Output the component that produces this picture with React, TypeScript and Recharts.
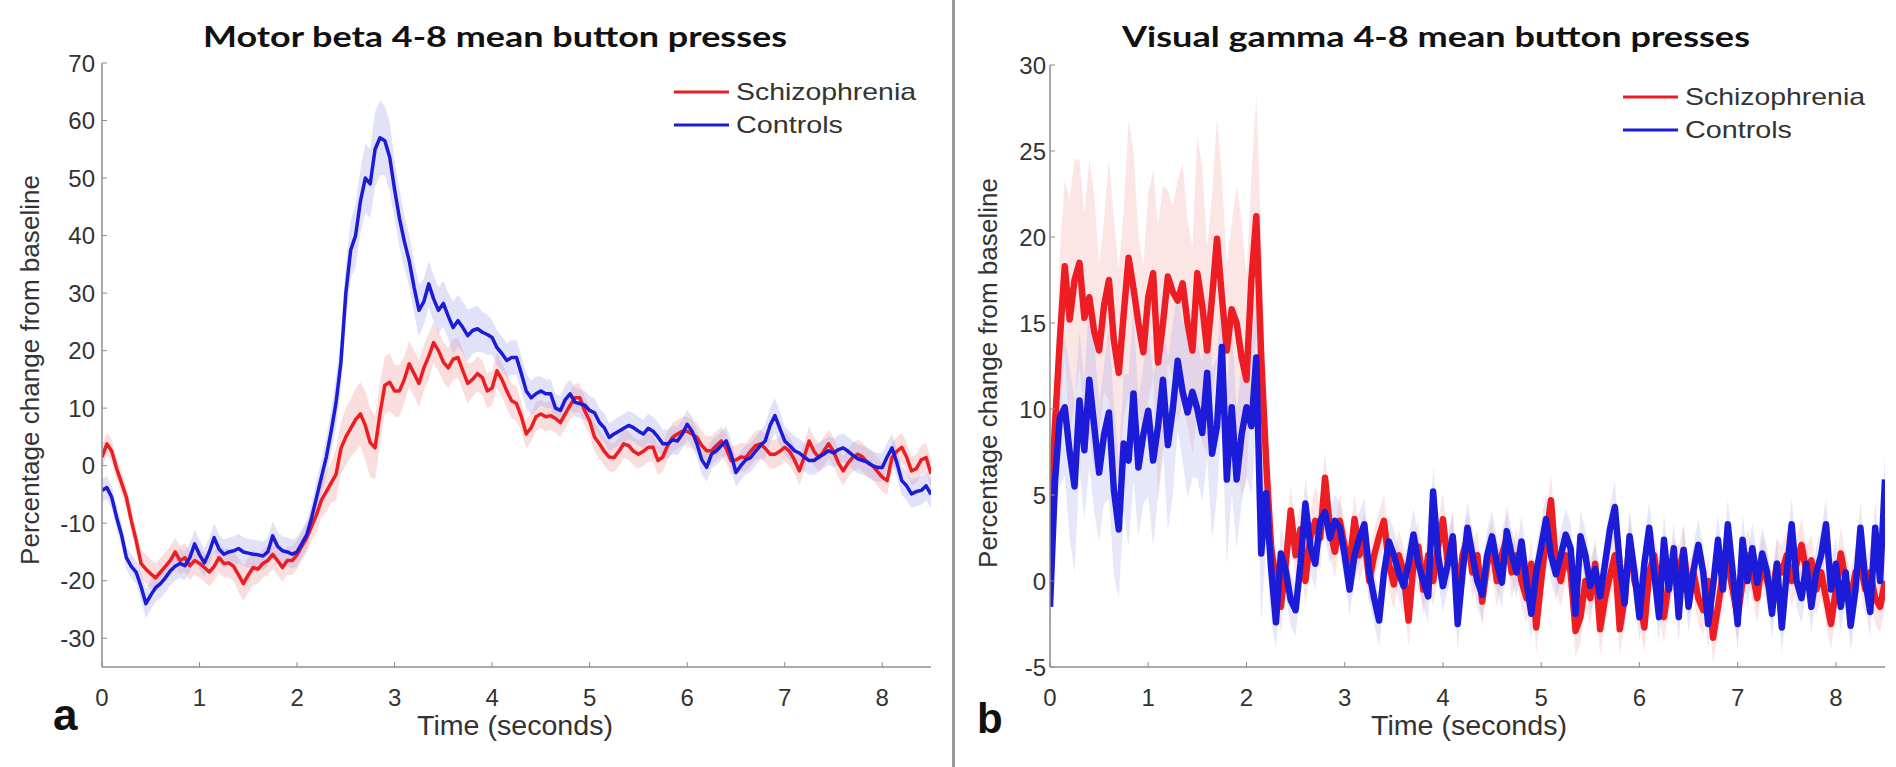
import React from 'react';
import { ComposedChart, Line, Area, XAxis, YAxis } from 'recharts';

// sampling of the traces (seconds)
const STEP = 0.05;

const TIME_TICKS = [0, 1, 2, 3, 4, 5, 6, 7, 8];
const MOTOR_TICKS = [-30, -20, -10, 0, 10, 20, 30, 40, 50, 60, 70];
const VISUAL_TICKS = [-5, 0, 5, 10, 15, 20, 25, 30];

// panel a: motor beta, % change from baseline, one value every 0.05 s from 0 to 8.5 s
const motorSchizo = [
  1.5, 3.8, 2.5, -0.5, -3, -5.5, -9.5, -13, -17, -18,
  -18.8, -19.5, -18.5, -17.5, -16.5, -15, -16.5, -16, -17.4, -16.5,
  -17, -17.7, -18.5, -17.5, -16, -17, -16.9, -17.5, -19, -20.5,
  -19, -17.7, -18, -17, -16.5, -15.4, -16.5, -17.7, -16.5, -16.5,
  -15.5, -14, -12.5, -10.5, -8.5, -6, -4.5, -3, -1.5, 3,
  5, 6.5, 8, 9, 7, 4, 3.1, 9, 14, 14.5,
  13, 13, 15, 17.7, 16, 14.3, 17, 19, 21.4, 20,
  18, 17, 18.5, 18.8, 16.5, 14.3, 15, 16, 15.3, 13,
  13.5, 16.5, 15, 13, 11.3, 10.8, 8.5, 5.5, 6.6, 8.5,
  9, 8.5, 8.7, 8.2, 7.5, 9, 10.5, 11.8, 11.8, 9.5,
  7.8, 5, 3.8, 2.5, 1.5, 1.4, 2.5, 3.8, 3.5, 2.5,
  2, 2.5, 3.2, 3.2, 0.9, 1.5, 3.5, 4.9, 5.5, 6,
  6, 5.5, 4.9, 3.5, 2.6, 2.6, 3.5, 4.3, 3, 0.9,
  1, 1.5, 1.4, 2.5, 3.5, 3.8, 3, 2, 2, 2.5,
  3.2, 2.5, 1, -0.9, 1.5, 4.3, 2.5, 1.4, 2.5, 3.8,
  2.5, 0.5, -0.9, 0.5, 1.5, 2, 1.5, 0.5, 0, -1,
  -2, -2.6, 1.4, 2.5, 3.2, 1.5, -0.9, -0.5, 1, 1.4,
  -1.4,
];

const motorControls = [
  -4.3, -3.8, -5.5, -9, -12, -16, -17.5, -18.5, -21, -24,
  -22.5, -21.2, -20.5, -19.5, -18.3, -17.5, -17, -17.4, -16, -13.6,
  -15.5, -16.9, -15, -12.5, -14.5, -15.4, -15, -14.8, -14.4, -15,
  -15.2, -15.4, -15.5, -15.7, -15, -12.2, -14, -14.8, -15, -15.4,
  -15, -13.5, -12, -9, -5.5, -2, 1.5, 6, 11, 18,
  30, 37.5, 40, 46, 50, 49, 55, 57, 56.5, 53.6,
  48, 43, 39, 35.6, 31, 27, 28.5, 31.6, 29, 27,
  28.2, 26, 24, 25.2, 24, 22.6, 23.5, 23.8, 23.2, 22.8,
  22.3, 20.5, 19.5, 18.3, 18.8, 18.8, 16, 13, 11.8, 12.5,
  13, 12.5, 12.5, 10, 9.6, 11.5, 12.5, 11, 10.8, 10.5,
  9.6, 9.2, 7.5, 6.6, 4.9, 5.5, 6, 6.5, 7, 6.6,
  6, 5.5, 6.5, 6, 5, 3.8, 3.8, 4.5, 4.3, 5.5,
  7.2, 6, 3.8, 1, -0.3, 2, 2.6, 3.5, 4.3, 2,
  -1.2, 0, 1, 1.4, 2.5, 3.5, 4.3, 7, 8.7, 6.5,
  4.3, 3.5, 2.6, 2.2, 1.5, 0.9, 0.9, 1.5, 2, 2.6,
  2.2, 2.8, 3.1, 2.5, 1.8, 1.2, 0.9, 0.6, 0, -0.3,
  -0.3, 1.5, 3.1, 0.5, -2.6, -3.5, -4.9, -4.5, -4.3, -3.5,
  -5,
];

// half-width of the shaded error bands, one value every 0.1 s
const motorSchizoSem = [
  2, 2, 2, 2, 2.5, 2.5, 2.5, 2.5, 2.5, 2.5,
  2.5, 2.5, 2.5, 2.5, 3, 3, 2.5, 2.5, 2.5, 2.5,
  2.5, 2.5, 3, 3.5, 4.5, 5, 5.5, 6, 5.5, 5,
  4.5, 4, 4, 4, 3.5, 3.5, 3.5, 3.5, 3, 3,
  3, 3, 3, 2.5, 2.5, 2.5, 2.5, 2.5, 2.5, 2.5,
  2.5, 2.5, 2.5, 2.5, 2.5, 2.5, 2.5, 2.5, 2.5, 2.5,
  2.5, 2.5, 2.5, 2.5, 2.5, 2.5, 2.5, 2.5, 2.5, 2.5,
  2.5, 2.5, 2.5, 2.5, 2.5, 2.5, 2.5, 2.5, 2.5, 2.5,
  2.5, 2.5, 2.5, 2.5, 2.5, 2.5,
];

const motorControlsSem = [
  2, 2, 2, 2, 2.5, 2.5, 2.5, 2.5, 2.5, 2.5,
  2.5, 2.5, 2.5, 2.5, 2.5, 2.5, 2.5, 2.5, 2.5, 2.5,
  2.5, 2.5, 3, 3.5, 4.5, 5, 5.5, 6, 6.5, 6,
  5, 4.5, 4.5, 4, 4, 4, 4.5, 4.5, 4, 3.5,
  3, 3, 3, 3, 3, 2.5, 2.5, 2.5, 2.5, 2.5,
  2.5, 2.5, 2.5, 2.5, 2.5, 2.5, 2.5, 2.5, 2.5, 2.5,
  2.5, 2.5, 2.5, 2.5, 2.5, 2.5, 2.5, 2.5, 3, 3,
  2.5, 2.5, 2.5, 2.5, 2.5, 2.5, 2.5, 2.5, 2.5, 2.5,
  2.5, 2.5, 2.5, 2.5, 2.5, 2.5,
];

// panel b: visual gamma
const visualSchizo = [
  3, 9, 14, 18.3, 15.2, 17.5, 18.5, 15.3, 16.5, 14.5,
  13.4, 16, 17.5, 14, 12.1, 15.5, 18.8, 17, 15, 13.3,
  16.5, 17.9, 12.7, 15, 17.7, 16.8, 16.3, 17.3, 15, 13.4,
  17.9, 16, 13.4, 16.5, 19.9, 16.5, 13.4, 15.8, 15, 13,
  11.7, 17.5, 21.2, 13, 7, 2, 0, -1.5, 1, 4.1,
  1.5, 3, 0, 2.5, 3.5, 2.5, 6, 3, 1.7, 3.5,
  2, 1, 3.6, 1.5, 2.5, 0, 1.5, 2.6, 3.5, 1,
  -0.2, 1.5, 0.5, -2.3, 1, 2, -0.5, 1.5, 0, 2,
  3.6, 1, 2.5, -1, 1.5, 2.5, 0.5, 1.5, -1.2, 1,
  2, 0, 1.5, 2.5, 0.5, 1.5, 0, -1, 1, -2.7,
  0, 2.5, 4.7, 1, 0, 1.5, 0.5, -2.9, -2.1, 0,
  -1, 1, -2.8, -1, 0.3, 1.5, -2.8, -1, 2.4, 0,
  -1, -2.7, 0.5, 1.5, -0.5, -2.1, 0, 1, 0.5, 1.8,
  -0.5, 0.5, -1, -1.7, 0, -3.3, -1.5, 0.5, 1, -0.5,
  -2.1, 0, 1.5, 0.5, -1, 1.2, 0, -0.9, 1, 0.5,
  1.5, 0, 1, 2.1, 0.5, 1.2, -0.5, 0.5, -1, -2.5,
  -0.5, 1.6, 0, -1, 0.5, 1, -0.5, 0.5, -1, -1.5,
  0,
];

const visualControls = [
  -1.5, 5.7, 9.5, 10.1, 7.5, 5.5, 10.5, 7.6, 11.7, 9,
  6.3, 8.5, 9.8, 5.3, 3, 8, 7, 10.9, 6.6, 8.5,
  9.9, 7, 9, 11.7, 7.9, 10, 12.8, 11, 9.8, 11,
  10, 8.6, 12.1, 7.4, 9, 13.6, 5.9, 10.1, 5.9, 8.5,
  10.1, 9, 13, 1.6, 5.1, 0.8, -2.4, 1.6, 0.6, -1.1,
  -1.7, 1, 4.5, 2, 1, 3.5, 4, 2.5, 3.5, 3.1,
  1.5, -0.5, 1.5, 2.5, 3.3, 0.5, -1, -2.3, 0.5, 2.3,
  1.5, 0.5, -0.3, 1, 2.7, 1, 0, -0.9, 5.2, 1.5,
  -0.3, 1, 2.6, -2.5, 0.5, 3.1, 1.5, 0, -0.8, 1.5,
  2.6, 1, -0.1, 2.9, 1.5, 0.5, 2.3, 0, -1.9, 0.5,
  2, 3.6, 1.5, 0.4, 1.5, 2.7, 1.9, -1.9, 2.6, 1.5,
  -0.3, 0.7, -0.9, 1, 3, 4.3, 1, -1.3, 2.6, 0.5,
  -2.1, 1, 3.1, 0.5, -2.1, 2.4, -0.5, 1.9, -2.1, 1.8,
  -1.5, 0.6, 2.1, 0.5, -2.5, -0.3, 2.4, -0.5, 3.3, 0.5,
  -2.5, 2.4, 0, 1.9, -0.1, 1.6, 0.5, -1.9, 1, -2.7,
  0.5, 3.3, 0, -1, 1, -1.5, 0.5, 1.5, 3.3, -0.5,
  1, -1.5, 0.5, -2.6, -0.5, 3.1, 0, -1.8, 3.1, 0,
  5.9,
];

const visualSchizoSem = [
  2, 5, 7, 6, 8, 5, 7, 6, 8, 5,
  6, 8, 5, 7, 6, 8, 6, 7, 5, 8,
  6, 7, 3, 1.5, 1.5, 1.5, 1.5, 2, 1.5, 1.5,
  1.5, 1.5, 1.5, 1.5, 1.5, 1.5, 1.5, 1.5, 1.5, 1.5,
  1.5, 1.5, 1.5, 1.5, 1.5, 1.5, 1.5, 1.5, 1.5, 1.5,
  1.5, 1.5, 1.5, 1.5, 1.5, 1.5, 1.5, 1.5, 1.5, 1.5,
  1.5, 1.5, 1.5, 1.5, 1.5, 1.5, 1.5, 1.5, 1.5, 1.5,
  1.5, 1.5, 1.5, 1.5, 1.5, 1.5, 1.5, 1.5, 1.5, 1.5,
  1.5, 1.5, 1.5, 1.5, 1.5, 1.5,
];

const visualControlsSem = [
  2, 4, 5, 4, 5, 4, 5, 4, 5, 4,
  5, 4, 5, 4, 5, 4, 5, 4, 5, 4,
  4, 4, 3, 1.5, 1.5, 1.5, 1.5, 1.5, 1.5, 1.5,
  1.5, 1.5, 1.5, 1.5, 1.5, 1.5, 1.5, 1.5, 1.5, 1.5,
  1.5, 1.5, 1.5, 1.5, 1.5, 1.5, 1.5, 1.5, 1.5, 1.5,
  1.5, 1.5, 1.5, 1.5, 1.5, 1.5, 1.5, 1.5, 1.5, 1.5,
  1.5, 1.5, 1.5, 1.5, 1.5, 1.5, 1.5, 1.5, 1.5, 1.5,
  1.5, 1.5, 1.5, 1.5, 1.5, 1.5, 1.5, 1.5, 1.5, 1.5,
  1.5, 1.5, 1.5, 1.5, 1.5, 1.5,
];

const RED = '#ec1e24';
const BLUE = '#1c1cd8';
const AXIS = '#8e8e8e';
const TICK_FONT = { fill: '#333', fontSize: 24, fontFamily: 'Liberation Sans, Arial, sans-serif' };

function buildRows(schizo: number[], controls: number[], sSem: number[], cSem: number[]) {
  return schizo.map((v, i) => {
    const c = controls[i];
    const sw = sSem[i >> 1];
    const cw = cSem[i >> 1];
    return {
      t: Math.round(i * STEP * 100) / 100,
      schizo: v,
      controls: c,
      schizoBand: [v - sw, v + sw],
      controlsBand: [c - cw, c + cw],
    };
  });
}

const motorRows = buildRows(motorSchizo, motorControls, motorSchizoSem, motorControlsSem);
const visualRows = buildRows(visualSchizo, visualControls, visualSchizoSem, visualControlsSem);

interface PanelProps {
  rows: ReturnType<typeof buildRows>;
  width: number;
  domain: [number, number];
  ticks: number[];
  top: number;
  right: number;
  yWidth: number;
  lineWidth: number;
  tickGap: number;
  bandAlpha: number;
}

function Panel({ rows, width, domain, ticks, top, right, yWidth, lineWidth, tickGap, bandAlpha }: PanelProps) {
  return (
    <ComposedChart width={width} height={767} data={rows} margin={{ top, right, bottom: 0, left: 0 }}>
      <XAxis type="number" dataKey="t" domain={[0, 8.5]} ticks={TIME_TICKS} height={100}
        tickSize={-5} tickMargin={27} allowDataOverflow
        axisLine={{ stroke: AXIS, strokeWidth: 1.5 }} tickLine={{ stroke: AXIS }} tick={TICK_FONT} />
      <YAxis type="number" domain={domain} ticks={ticks} width={yWidth} allowDataOverflow
        tickSize={-5} tickMargin={tickGap}
        axisLine={{ stroke: AXIS, strokeWidth: 1.5 }} tickLine={{ stroke: AXIS }} tick={TICK_FONT} />
      <Area type="linear" dataKey="schizoBand" stroke="none" fill="#f0a0a0" fillOpacity={bandAlpha}
        isAnimationActive={false} activeDot={false} />
      <Area type="linear" dataKey="controlsBand" stroke="none" fill="#a8a8ec" fillOpacity={bandAlpha}
        isAnimationActive={false} activeDot={false} />
      <Line type="linear" dataKey="schizo" stroke={RED} strokeWidth={lineWidth} dot={false}
        activeDot={false} isAnimationActive={false} strokeLinejoin="round" />
      <Line type="linear" dataKey="controls" stroke={BLUE} strokeWidth={lineWidth} dot={false}
        activeDot={false} isAnimationActive={false} strokeLinejoin="round" />
    </ComposedChart>
  );
}

const SANS = 'Liberation Sans, Arial, sans-serif';
const TITLE_FONT = 'Lato, "Open Sans", sans-serif';

function LegendBlock({ x, y }: { x: number; y: number }) {
  return (
    <g>
      <line x1={x} x2={x + 55} y1={y} y2={y} stroke={RED} strokeWidth={3} />
      <text x={x + 62} y={y + 8} fontFamily={SANS} fontSize={24} fill="#333"
        textLength={180} lengthAdjust="spacingAndGlyphs">Schizophrenia</text>
      <line x1={x} x2={x + 55} y1={y + 33} y2={y + 33} stroke={BLUE} strokeWidth={3} />
      <text x={x + 62} y={y + 41} fontFamily={SANS} fontSize={24} fill="#333"
        textLength={107} lengthAdjust="spacingAndGlyphs">Controls</text>
    </g>
  );
}

export default function App() {
  return (
    <div style={{ position: 'absolute', left: 0, top: 0, width: 1896, height: 767, background: '#fff' }}>
      <div style={{ position: 'absolute', left: 0, top: 0 }}>
        <Panel rows={motorRows} width={950} domain={[-35, 70]} ticks={MOTOR_TICKS} top={63} right={19}
          yWidth={102} lineWidth={3.5} tickGap={12} bandAlpha={0.35} />
      </div>
      <div style={{ position: 'absolute', left: 950, top: 0 }}>
        <Panel rows={visualRows} width={946} domain={[-5, 30]} ticks={VISUAL_TICKS} top={65} right={11}
          yWidth={100} lineWidth={6.5} tickGap={9} bandAlpha={0.28} />
      </div>
      <svg width={1896} height={767} style={{ position: 'absolute', left: 0, top: 0, pointerEvents: 'none' }}>
        <rect x={952} y={0} width={3} height={767} fill="#9a9a9a" />

        <text x={495} y={47} textAnchor="middle" fontFamily={TITLE_FONT} fontWeight={700} fontSize={28}
          fill="#111" textLength={584} lengthAdjust="spacingAndGlyphs">Motor beta 4-8 mean button presses</text>
        <text x={1436} y={47} textAnchor="middle" fontFamily={TITLE_FONT} fontWeight={700} fontSize={28}
          fill="#111" textLength={628} lengthAdjust="spacingAndGlyphs">Visual gamma 4-8 mean button presses</text>

        <text transform="translate(39,370) rotate(-90)" textAnchor="middle" fontFamily={SANS} fontSize={26}
          fill="#333" textLength={390} lengthAdjust="spacingAndGlyphs">Percentage change from baseline</text>
        <text transform="translate(997,373) rotate(-90)" textAnchor="middle" fontFamily={SANS} fontSize={26}
          fill="#333" textLength={390} lengthAdjust="spacingAndGlyphs">Percentage change from baseline</text>

        <text x={515} y={735} textAnchor="middle" fontFamily={SANS} fontSize={27} fill="#333"
          textLength={196} lengthAdjust="spacingAndGlyphs">Time (seconds)</text>
        <text x={1469} y={735} textAnchor="middle" fontFamily={SANS} fontSize={27} fill="#333"
          textLength={196} lengthAdjust="spacingAndGlyphs">Time (seconds)</text>

        <text x={53} y={730} fontFamily={SANS} fontWeight={700} fontSize={44} fill="#111">a</text>
        <text x={977} y={733} fontFamily={SANS} fontWeight={700} fontSize={42} fill="#111">b</text>

        <LegendBlock x={674} y={92} />
        <LegendBlock x={1623} y={97} />
      </svg>
    </div>
  );
}
